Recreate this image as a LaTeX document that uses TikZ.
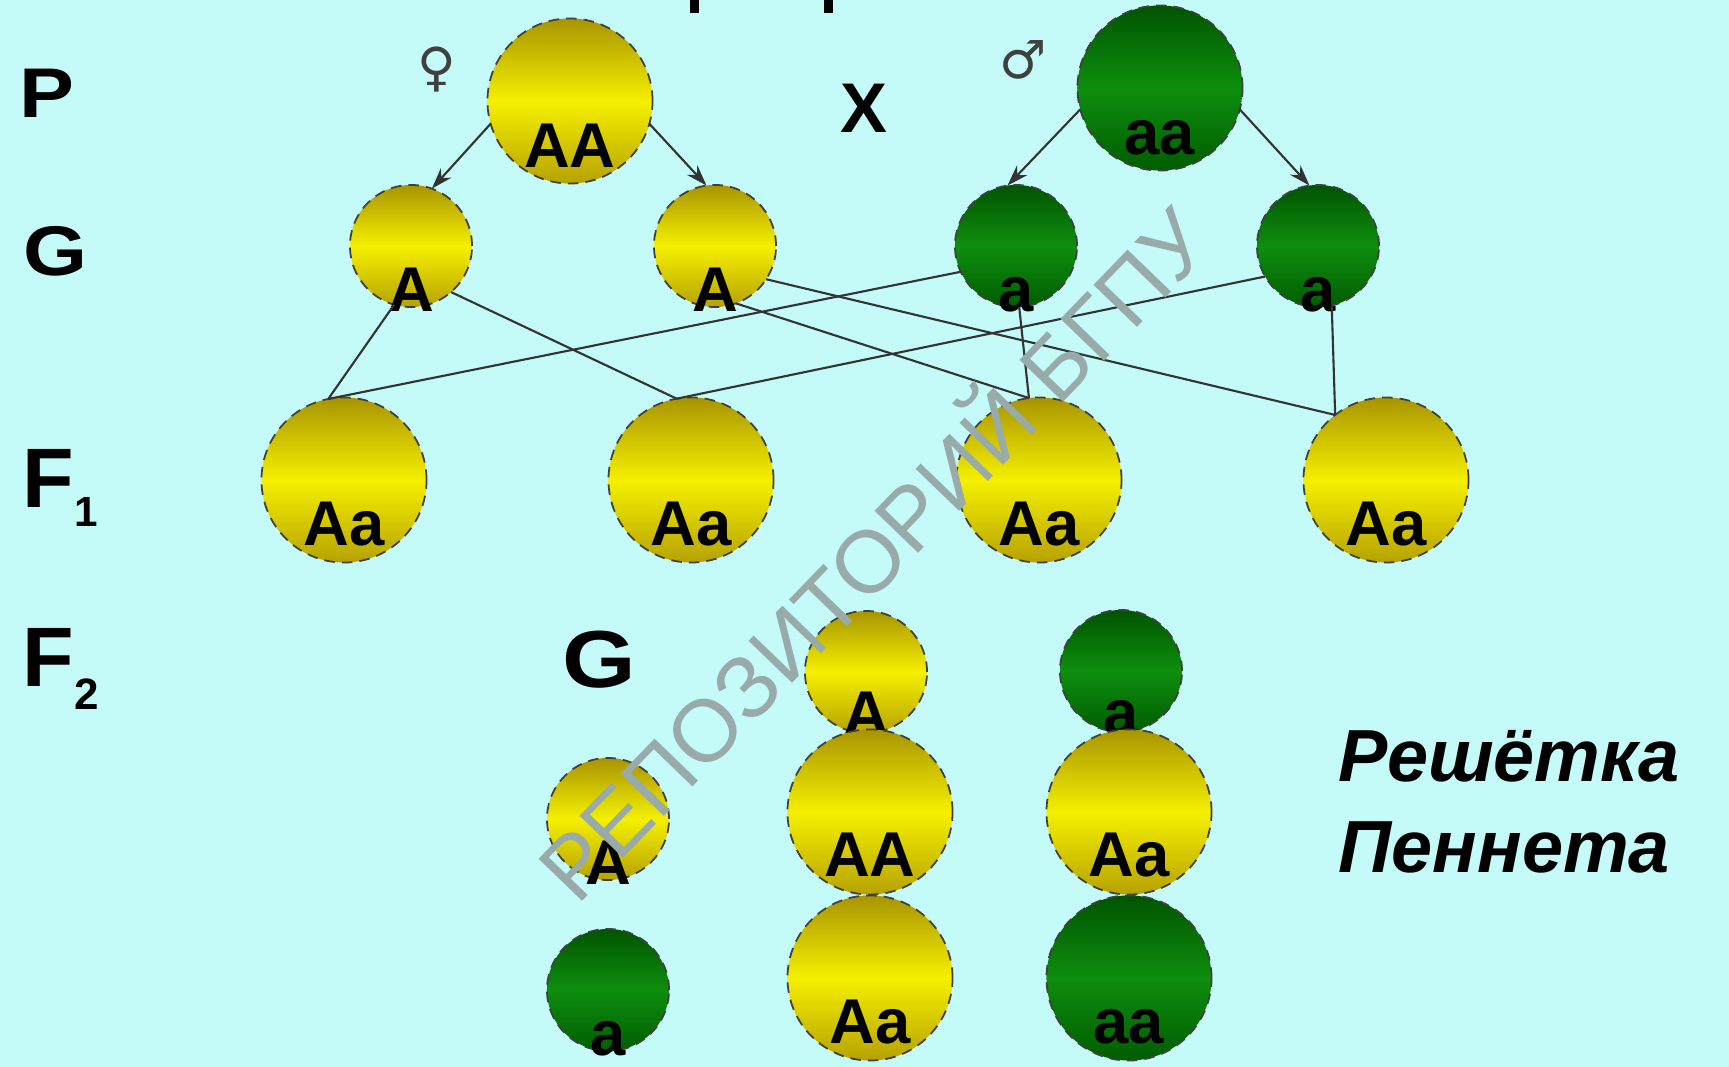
\documentclass[tikz,border=0pt]{standalone}
\usepackage{fontspec}
\setmainfont{Liberation Sans}
\newfontfamily\symfont{DejaVu Sans}
\newfontfamily\widefont[FakeStretch=1.17]{Liberation Sans}
\usetikzlibrary{arrows.meta}
\definecolor{bgcyan}{RGB}{196,250,248}
\definecolor{yeltop}{RGB}{168,148,0}
\definecolor{yelmid}{RGB}{245,240,0}
\definecolor{yelbot}{RGB}{182,162,0}
\definecolor{grntop}{RGB}{0,84,0}
\definecolor{grnmid}{RGB}{14,142,14}
\definecolor{grnbot}{RGB}{0,92,0}
\definecolor{wmgray}{RGB}{152,170,170}

\begin{document}
\begin{tikzpicture}[x=0.01cm, y=-0.01cm, >={Stealth[length=6pt, width=4pt]},
    cell/.style = {circle, draw=black!75, densely dashed, line width=0.5pt, inner sep=0pt, outer sep=0pt},
    big/.style = {cell, minimum size=1.65cm},
    gam/.style = {cell, minimum size=1.22cm},
    yel/.style = {top color=yeltop, bottom color=yelbot, middle color=yelmid},
    grn/.style = {top color=grntop, bottom color=grnbot, middle color=grnmid},
    gene/.style = {anchor=base, inner sep=0pt, font=\fontsize{18}{18}\selectfont\bfseries},
    row/.style = {anchor=base west, inner sep=0pt, font=\widefont\fontsize{20}{20}\selectfont\bfseries},
    frow/.style = {anchor=base west, inner sep=0pt, font=\fontsize{24}{24}\selectfont\bfseries},
    sex/.style = {text=black!75, font=\symfont\fontsize{15}{15}\selectfont},
    pen/.style = {anchor=base west, inner sep=0pt, font=\fontsize{21}{21}\selectfont\bfseries\itshape},
    wm/.style = {rotate=46, text=wmgray, font=\fontsize{25}{25}\selectfont},
    link/.style = {black!80, line width=0.6pt}]

    \fill[bgcyan] (0,0) rectangle (1729,1067);
    \useasboundingbox (0,0) rectangle (1729,1067);

    % title cut off at the top
    \fill[black] (690,0) rectangle (699,13);
    \fill[black] (824,0) rectangle (833,13);

    \node[row] (P)  at (19,118) {P};
    \node[row] (G)  at (23,276) {G};
    \node[frow] (F1) at (22,508) {F\raisebox{-5.4pt}{\fontsize{12}{12}\selectfont 1}};
    \node[frow] (F2) at (22,687) {F\raisebox{-6.4pt}{\fontsize{12.5}{12.5}\selectfont 2}};

    % parents
    \node[sex] (fem)  at (437,70)  {♀};
    \node[big, yel] (AA) at (570,101) {};
    \node[gene] (tAA) at ([yshift=0.16cm]AA.south) {AA};
    \node[row, anchor=center, font=\fontsize{20}{20}\selectfont\bfseries] (cross) at (864,108) {X};
    \node[sex] (male) at (1023,60) {♂};
    \node[big, grn] (aa) at (1160,88) {};
    \node[gene] (taa) at ([yshift=0.16cm]aa.south) {aa};

    % gametes
    \node[gam, yel] (A1) at (411,246) {};
    \node[gam, yel] (A2) at (715,246) {};
    \node[gam, grn] (a1) at (1016,246) {};
    \node[gam, grn] (a2) at (1318,246) {};
    \node[gene] (tA1) at ([yshift=-0.04cm]A1.south) {A};
    \node[gene] (tA2) at ([yshift=-0.04cm]A2.south) {A};
    \node[gene] (ta1) at ([yshift=-0.04cm]a1.south) {a};
    \node[gene] (ta2) at ([yshift=-0.04cm]a2.south) {a};

    % F1
    \node[big, yel] (Aa1) at (344,480) {};
    \node[big, yel] (Aa2) at (691,480) {};
    \node[big, yel] (Aa3) at (1039,480) {};
    \node[big, yel] (Aa4) at (1386,480) {};
    \node[gene] (tAa1) at ([yshift=0.17cm]Aa1.south) {Aa};
    \node[gene] (tAa2) at ([yshift=0.17cm]Aa2.south) {Aa};
    \node[gene] (tAa3) at ([yshift=0.17cm]Aa3.south) {Aa};
    \node[gene] (tAa4) at ([yshift=0.17cm]Aa4.south) {Aa};

    \draw[->, link] (AA.196) -- (A1.70);
    \draw[->, link] (AA.344) -- (A2.98);
    \draw[->, link] (aa.195) -- (a1.98);
    \draw[->, link] (aa.345) -- (a2.98);

    \draw[link] (A1.254) -- (Aa1.101);
    \draw[link] (a1.205) -- (Aa1.101);
    \draw[link] (A1.311) -- (Aa2.100);
    \draw[link] (a2.210) -- (Aa2.100);
    \draw[link] (A2.290) -- (Aa3.97);
    \draw[link] (a1.273) -- (Aa3.97);
    \draw[link] (A2.327) -- (Aa4.128);
    \draw[link] (a2.283) -- (Aa4.128);

    % Punnett square
    \node[row, anchor=center, font=\widefont\fontsize{23}{23}\selectfont\bfseries] (PG) at (599,660) {G};
    \node[gam, yel] (pA) at (866,672) {};
    \node[gam, grn] (pa) at (1121,671) {};
    \node[gam, yel] (lA) at (608,819) {};
    \node[gam, grn] (la) at (608,990) {};
    \node[gene] (tpA) at ([yshift=-0.02cm]pA.south) {A};
    \node[gene] (tpa) at ([yshift=-0.02cm]pa.south) {a};
    \node[gene] (tlA) at ([yshift=-0.04cm]lA.south) {A};
    \node[gene] (tla) at ([yshift=-0.04cm]la.south) {a};

    \node[big, yel] (gAA)  at (870,812) {};
    \node[big, yel] (gAa1) at (1129,812) {};
    \node[big, yel] (gAa2) at (870,978) {};
    \node[big, grn] (gaa)  at (1129,978) {};
    \node[gene] (tgAA)  at ([yshift=0.18cm]gAA.south) {AA};
    \node[gene] (tgAa1) at ([yshift=0.18cm]gAa1.south) {Aa};
    \node[gene] (tgAa2) at ([yshift=0.17cm]gAa2.south) {Aa};
    \node[gene] (tgaa)  at ([yshift=0.17cm]gaa.south) {aa};

    \node[pen] (pen1) at (1338,782) {Решётка};
    \node[pen] (pen2) at (1338,873) {Пеннета};

    \node[wm] (repo) at (868,549) {РЕПОЗИТОРИЙ БГПУ};

\end{tikzpicture}
\end{document}
